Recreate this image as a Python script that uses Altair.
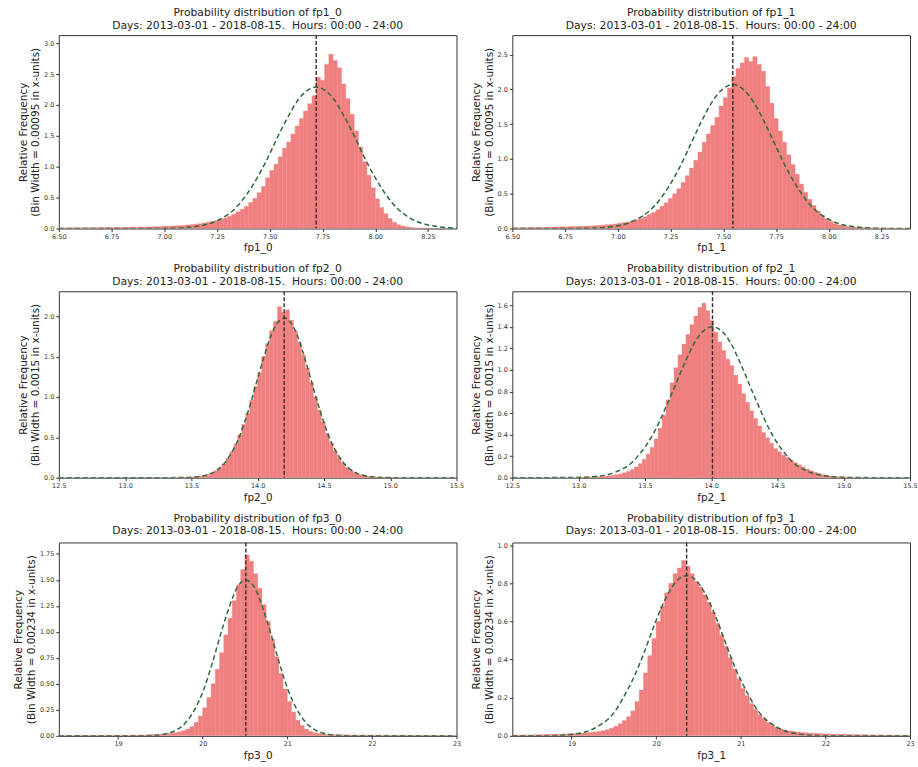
import altair as alt
import pandas as pd

FONT = "DejaVu Sans"
FILL = "#F08080"
CURVE_COLOR = "#2e6a3c"
MEAN_COLOR = "#3a2c2c"
SUBTITLE = "Days: 2013-03-01 - 2018-08-15.\u00a0 Hours: 00:00 - 24:00"

# ---------------- fp1_0 ----------------
FP1_0_START, FP1_0_W = 6.50, 0.02
FP1_0_HIST = [0.008, 0.010, 0.009, 0.011, 0.010, 0.012, 0.011, 0.013, 0.012, 0.014, 0.013,
              0.015, 0.014, 0.016, 0.017, 0.018, 0.020, 0.019, 0.022, 0.024, 0.023, 0.026, 0.028, 0.030, 0.032,
              0.035, 0.038, 0.042, 0.046, 0.050, 0.056, 0.062, 0.070, 0.078, 0.088, 0.10, 0.115, 0.13, 0.15,
              0.17, 0.20, 0.23, 0.27, 0.31, 0.36, 0.42, 0.49, 0.58, 0.68, 0.82,
              0.94, 1.04, 1.16, 1.30, 1.40, 1.53, 1.66, 1.78, 1.90, 2.02, 2.15, 2.45, 2.40, 2.66, 2.82,
              2.72, 2.60, 2.34, 2.10, 1.85, 1.58, 1.32, 1.08, 0.86, 0.66,
              0.48, 0.34, 0.24, 0.16, 0.10, 0.06, 0.04, 0.025, 0.015, 0.01, 0.006, 0.004, 0.002]
FP1_0_CX = [6.50, 6.70, 6.90, 6.99, 7.04, 7.09, 7.14, 7.19, 7.24, 7.29, 7.34, 7.39, 7.44, 7.49,
            7.54, 7.59, 7.64, 7.69, 7.72, 7.75, 7.80, 7.85, 7.90, 7.95, 8.00,
            8.05, 8.10, 8.15, 8.20, 8.25, 8.30, 8.35, 8.39]
FP1_0_CY = [0.0, 0.0, 0.001, 0.002, 0.005, 0.012, 0.028, 0.057, 0.11, 0.20, 0.34, 0.55, 0.82, 1.14,
            1.50, 1.83, 2.11, 2.26, 2.29, 2.26, 2.11, 1.83, 1.50, 1.14, 0.82,
            0.55, 0.34, 0.20, 0.11, 0.057, 0.028, 0.012, 0.006]
FP1_0_MEAN = 7.72

# ---------------- fp1_1 ----------------
FP1_1_START, FP1_1_W = 6.50, 0.02
FP1_1_HIST = [0.01, 0.01, 0.012, 0.011, 0.013, 0.014, 0.016, 0.015, 0.018, 0.02, 0.021, 0.024, 0.022,
              0.026, 0.028, 0.03, 0.033, 0.031, 0.036, 0.04, 0.044, 0.048, 0.053, 0.058, 0.065,
              0.075, 0.085, 0.095, 0.11, 0.125, 0.145, 0.17, 0.20, 0.23, 0.27, 0.32, 0.37, 0.43,
              0.50, 0.57, 0.66, 0.76, 0.87, 0.98, 1.10, 1.24, 1.36, 1.48, 1.60, 1.76,
              1.88, 2.02, 2.18, 2.30, 2.38, 2.46, 2.40, 2.47, 2.36, 2.26, 2.04, 1.80, 1.58,
              1.40, 1.24, 1.06, 0.92, 0.78, 0.64, 0.52, 0.42, 0.33, 0.25, 0.19, 0.14,
              0.10, 0.07, 0.05, 0.04, 0.03, 0.02, 0.018, 0.014, 0.012, 0.01, 0.008, 0.007, 0.006,
              0.005, 0.005, 0.004, 0.004, 0.003, 0.003, 0.003]
FP1_1_CX = [6.50, 6.70, 6.845, 6.895, 6.945, 6.995, 7.045, 7.095, 7.145, 7.195, 7.245, 7.295,
            7.345, 7.395, 7.445, 7.495, 7.545, 7.595, 7.645, 7.695, 7.745, 7.795, 7.845,
            7.895, 7.945, 7.995, 8.045, 8.095, 8.145, 8.195, 8.245, 8.30, 8.39]
FP1_1_CY = [0.0, 0.0, 0.003, 0.007, 0.017, 0.036, 0.072, 0.14, 0.24, 0.40, 0.62, 0.89,
            1.21, 1.53, 1.81, 2.00, 2.07, 2.00, 1.81, 1.53, 1.21, 0.89, 0.62,
            0.40, 0.24, 0.14, 0.072, 0.036, 0.017, 0.007, 0.003, 0.001, 0.0]
FP1_1_MEAN = 7.545

# ---------------- fp2_0 ----------------
FP2_0_START, FP2_0_W = 13.40, 0.03
FP2_0_HIST = [0.003, 0.004, 0.006, 0.008, 0.012, 0.018, 0.026, 0.04, 0.06, 0.085,
              0.12, 0.17, 0.24, 0.32, 0.41, 0.53, 0.66, 0.80, 0.96, 1.13,
              1.30, 1.50, 1.66, 1.82, 1.94, 2.12, 2.05, 2.08, 1.95, 1.82,
              1.68, 1.52, 1.36, 1.18, 1.00, 0.84, 0.69, 0.55, 0.43, 0.33,
              0.25, 0.18, 0.13, 0.09, 0.06, 0.04, 0.027, 0.018, 0.012, 0.008,
              0.005, 0.004, 0.003, 0.002]
FP2_0_CX = [12.5, 13.2, 13.4, 13.5, 13.55, 13.6, 13.65, 13.7, 13.75, 13.8, 13.85, 13.9, 13.95,
            14.0, 14.05, 14.1, 14.15, 14.2, 14.25, 14.3, 14.35, 14.4, 14.45, 14.5, 14.55,
            14.6, 14.65, 14.7, 14.75, 14.8, 14.85, 14.9, 15.0, 15.2, 15.5]
FP2_0_CY = [0.0, 0.0, 0.001, 0.006, 0.013, 0.027, 0.054, 0.10, 0.18, 0.30, 0.46, 0.68, 0.94,
            1.23, 1.51, 1.76, 1.92, 1.98, 1.92, 1.76, 1.51, 1.23, 0.94, 0.68, 0.46,
            0.30, 0.18, 0.10, 0.054, 0.027, 0.013, 0.006, 0.001, 0.0, 0.0]
FP2_0_MEAN = 14.2

# ---------------- fp2_1 ----------------
FP2_1_START, FP2_1_W = 13.00, 0.03
FP2_1_HIST = [0.003, 0.004, 0.005, 0.006, 0.008, 0.010, 0.013, 0.017, 0.022, 0.028,
              0.035, 0.045, 0.058, 0.075, 0.10, 0.13, 0.17, 0.22, 0.28, 0.36,
              0.46, 0.58, 0.72, 0.88, 1.02, 1.14, 1.24, 1.33, 1.42, 1.50,
              1.58, 1.62, 1.55, 1.46, 1.35, 1.26, 1.18, 1.10, 1.04, 0.95,
              0.87, 0.78, 0.70, 0.62, 0.55, 0.48, 0.42, 0.37, 0.32, 0.27,
              0.24, 0.21, 0.19, 0.16, 0.14, 0.12, 0.10, 0.08, 0.065, 0.05,
              0.038, 0.028, 0.02, 0.015, 0.011, 0.008, 0.006, 0.004, 0.003]
FP2_1_CX = [12.5, 12.9, 13.01, 13.11, 13.21, 13.26, 13.31, 13.36, 13.41, 13.46, 13.51, 13.56,
            13.61, 13.66, 13.71, 13.76, 13.81, 13.86, 13.91, 13.96, 14.01, 14.06, 14.11,
            14.16, 14.21, 14.26, 14.31, 14.36, 14.41, 14.46, 14.51, 14.56, 14.61, 14.66,
            14.71, 14.76, 14.81, 14.91, 15.01, 15.11, 15.5]
FP2_1_CY = [0.0, 0.001, 0.003, 0.0095, 0.027, 0.044, 0.069, 0.10, 0.15, 0.22, 0.30, 0.40,
            0.52, 0.66, 0.80, 0.95, 1.09, 1.22, 1.32, 1.38, 1.40, 1.38, 1.32,
            1.22, 1.09, 0.95, 0.80, 0.66, 0.52, 0.40, 0.30, 0.22, 0.15, 0.10,
            0.069, 0.044, 0.027, 0.0095, 0.003, 0.001, 0.0]
FP2_1_MEAN = 14.01

# ---------------- fp3_0 ----------------
FP3_0_START, FP3_0_W = 18.30, 0.05
FP3_0_HIST = [0.002, 0.002, 0.003, 0.002, 0.003, 0.003, 0.003, 0.004, 0.003, 0.004, 0.004, 0.004, 0.005, 0.005,
              0.005, 0.005, 0.006, 0.006, 0.007, 0.008, 0.009, 0.010, 0.012, 0.014,
              0.017, 0.02, 0.025, 0.03, 0.038, 0.05, 0.065, 0.09, 0.13, 0.19, 0.27, 0.37, 0.50, 0.64,
              0.80, 0.97, 1.13, 1.30, 1.45, 1.60, 1.74, 1.68, 1.56, 1.42, 1.26, 1.10, 0.93, 0.76,
              0.60, 0.45, 0.33, 0.23, 0.15, 0.10, 0.065, 0.045, 0.03, 0.022, 0.017, 0.014, 0.012,
              0.011, 0.010, 0.010, 0.009, 0.009, 0.008, 0.008, 0.007, 0.007, 0.007, 0.006, 0.006,
              0.006, 0.005, 0.005, 0.005, 0.005, 0.004, 0.004, 0.004, 0.004, 0.004, 0.003, 0.003,
              0.003, 0.003, 0.003, 0.003, 0.003]
FP3_0_CX = [18.3, 19.0, 19.21, 19.31, 19.41, 19.51, 19.61, 19.71, 19.81, 19.91, 20.01, 20.11,
            20.21, 20.31, 20.41, 20.51, 20.61, 20.71, 20.81, 20.91, 21.01, 21.11, 21.21,
            21.31, 21.41, 21.51, 21.61, 21.71, 21.81, 22.2, 23.0]
FP3_0_CY = [0.0, 0.0, 0.0004, 0.001, 0.004, 0.011, 0.029, 0.066, 0.137, 0.26, 0.44, 0.69,
            0.97, 1.23, 1.43, 1.50, 1.43, 1.23, 0.97, 0.69, 0.44, 0.26, 0.137,
            0.066, 0.029, 0.011, 0.004, 0.001, 0.0004, 0.0, 0.0]
FP3_0_MEAN = 20.51

# ---------------- fp3_1 ----------------
FP3_1_START, FP3_1_W = 18.30, 0.05
FP3_1_HIST = [0.004, 0.004, 0.005, 0.005, 0.005, 0.006, 0.006, 0.007, 0.007, 0.008, 0.008, 0.009, 0.010, 0.011,
              0.012, 0.013, 0.015, 0.016, 0.018, 0.020, 0.023, 0.027, 0.032, 0.040,
              0.050, 0.063, 0.08, 0.10, 0.13, 0.18, 0.24, 0.33, 0.42, 0.51,
              0.60, 0.68, 0.75, 0.80, 0.85, 0.88, 0.92, 0.89, 0.85, 0.81,
              0.78, 0.74, 0.70, 0.65, 0.59, 0.53, 0.47, 0.41, 0.35, 0.30,
              0.25, 0.21, 0.17, 0.14, 0.11, 0.09, 0.07, 0.055, 0.045, 0.037,
              0.030, 0.026, 0.023, 0.020, 0.018, 0.016, 0.014, 0.013, 0.012, 0.011, 0.010,
              0.009, 0.009, 0.008, 0.008, 0.007, 0.007, 0.006, 0.006, 0.006, 0.005, 0.005, 0.005,
              0.004, 0.004, 0.004, 0.003, 0.003, 0.003, 0.003]
FP3_1_CX = [18.3, 18.66, 18.76, 18.86, 18.96, 19.06, 19.16, 19.26, 19.36, 19.46, 19.56, 19.66,
            19.76, 19.86, 19.96, 20.06, 20.16, 20.26, 20.36, 20.46, 20.56, 20.66, 20.76,
            20.86, 20.96, 21.06, 21.16, 21.26, 21.36, 21.46, 21.56, 21.66, 21.76, 21.86,
            21.96, 22.06, 23.0]
FP3_1_CY = [0.0, 0.0003, 0.001, 0.0025, 0.005, 0.011, 0.020, 0.037, 0.064, 0.10, 0.16, 0.24,
            0.33, 0.44, 0.56, 0.67, 0.76, 0.82, 0.84, 0.82, 0.76, 0.67, 0.56,
            0.44, 0.33, 0.24, 0.16, 0.10, 0.064, 0.037, 0.020, 0.011, 0.005, 0.0025,
            0.001, 0.0003, 0.0]
FP3_1_MEAN = 20.36

# axis ticks / domains
FP1_XTICKS = [6.5, 6.75, 7.0, 7.25, 7.5, 7.75, 8.0, 8.25]
FP2_XTICKS = [12.5, 13.0, 13.5, 14.0, 14.5, 15.0, 15.5]
FP3_XTICKS = [19, 20, 21, 22, 23]


def hist_df(start, width, heights):
    x0 = [round(start + i * width, 6) for i in range(len(heights))]
    return pd.DataFrame({"x0": x0, "x1": [round(v + width, 6) for v in x0],
                         "h": heights, "z": [0.0] * len(heights)})


def panel(name, binlabel, start, width, heights, cx, cy, mean,
          xdom, xticks, xfmt, ydom, yticks, yfmt, h, toff):
    xs = alt.Scale(domain=xdom, nice=False, zero=False)
    ys = alt.Scale(domain=ydom, nice=False, zero=False)
    xa = alt.Axis(values=xticks, format=xfmt, title=name)
    ya = alt.Axis(values=yticks, format=yfmt,
                  title=["Relative Frequency", f"(Bin Width = {binlabel} in x-units)"])
    bars = alt.Chart(hist_df(start, width, heights)).mark_rect(
        color=FILL, stroke=FILL, strokeWidth=0.4, clip=True
    ).encode(
        x=alt.X("x0:Q", scale=xs, axis=xa), x2="x1:Q",
        y=alt.Y("h:Q", scale=ys, axis=ya), y2="z:Q",
    )
    curve = alt.Chart(pd.DataFrame({"x": cx, "y": cy})).mark_line(
        color=CURVE_COLOR, strokeDash=[5, 3], strokeWidth=1.5, clip=True,
        interpolate="monotone"
    ).encode(
        x=alt.X("x:Q", scale=xs, axis=xa),
        y=alt.Y("y:Q", scale=ys, axis=ya),
    )
    rule = alt.Chart(pd.DataFrame({"m": [mean]})).mark_rule(
        color=MEAN_COLOR, strokeDash=[4, 2], strokeWidth=1.4
    ).encode(x=alt.X("m:Q", scale=xs, axis=xa))
    return alt.layer(bars, curve, rule).properties(
        width=399, height=h,
        title=alt.TitleParams([f"Probability distribution of {name}", SUBTITLE],
                              fontSize=10.8, font=FONT, fontWeight="normal",
                              color="#222", anchor="middle", offset=toff, lineHeight=12.5),
    )


p10 = panel("fp1_0", "0.00095", FP1_0_START, FP1_0_W, FP1_0_HIST, FP1_0_CX, FP1_0_CY, FP1_0_MEAN,
            [6.5, 8.385], FP1_XTICKS, ".2f", [0, 3.13], [0, 0.5, 1.0, 1.5, 2.0, 2.5, 3.0], ".1f", 194, 4)
p11 = panel("fp1_1", "0.00095", FP1_1_START, FP1_1_W, FP1_1_HIST, FP1_1_CX, FP1_1_CY, FP1_1_MEAN,
            [6.5, 8.385], FP1_XTICKS, ".2f", [0, 2.78], [0, 0.5, 1.0, 1.5, 2.0, 2.5], ".1f", 194, 4)
p20 = panel("fp2_0", "0.0015", FP2_0_START, FP2_0_W, FP2_0_HIST, FP2_0_CX, FP2_0_CY, FP2_0_MEAN,
            [12.5, 15.5], FP2_XTICKS, ".1f", [0, 2.31], [0, 0.5, 1.0, 1.5, 2.0], ".1f", 187, 4)
p21 = panel("fp2_1", "0.0015", FP2_1_START, FP2_1_W, FP2_1_HIST, FP2_1_CX, FP2_1_CY, FP2_1_MEAN,
            [12.5, 15.5], FP2_XTICKS, ".1f", [0, 1.73], [0, 0.2, 0.4, 0.6, 0.8, 1.0, 1.2, 1.4, 1.6], ".1f", 187, 4)
p30 = panel("fp3_0", "0.00234", FP3_0_START, FP3_0_W, FP3_0_HIST, FP3_0_CX, FP3_0_CY, FP3_0_MEAN,
            [18.3, 23.0], FP3_XTICKS, "d", [0, 1.86], [0, 0.25, 0.5, 0.75, 1.0, 1.25, 1.5, 1.75], ".2f", 194, 6)
p31 = panel("fp3_1", "0.00234", FP3_1_START, FP3_1_W, FP3_1_HIST, FP3_1_CX, FP3_1_CY, FP3_1_MEAN,
            [18.3, 23.0], FP3_XTICKS, "d", [0, 1.014], [0, 0.2, 0.4, 0.6, 0.8, 1.0], ".1f", 194, 6)

col1 = alt.vconcat(p10, p20, p30, spacing=8)
col2 = alt.vconcat(p11, p21, p31, spacing=8)

chart = alt.hconcat(col1, col2, spacing=6).configure_view(
    stroke="#333", strokeWidth=1
).configure_axis(
    labelFont=FONT, labelFontSize=6.5, labelColor="#333",
    titleFont=FONT, titleFontSize=10.5, titleFontWeight="normal", titleColor="#222",
    tickColor="#333", tickSize=3, grid=False, domain=False,
    labelFlush=False, labelOverlap=False, labelPadding=2, titlePadding=3,
    titleLineHeight=12.5,
).properties(
    padding={"left": 13, "top": 5, "right": 0, "bottom": 0},
    background="white",
)

chart.save("out.html", embed_options={"renderer": "svg", "actions": False})
